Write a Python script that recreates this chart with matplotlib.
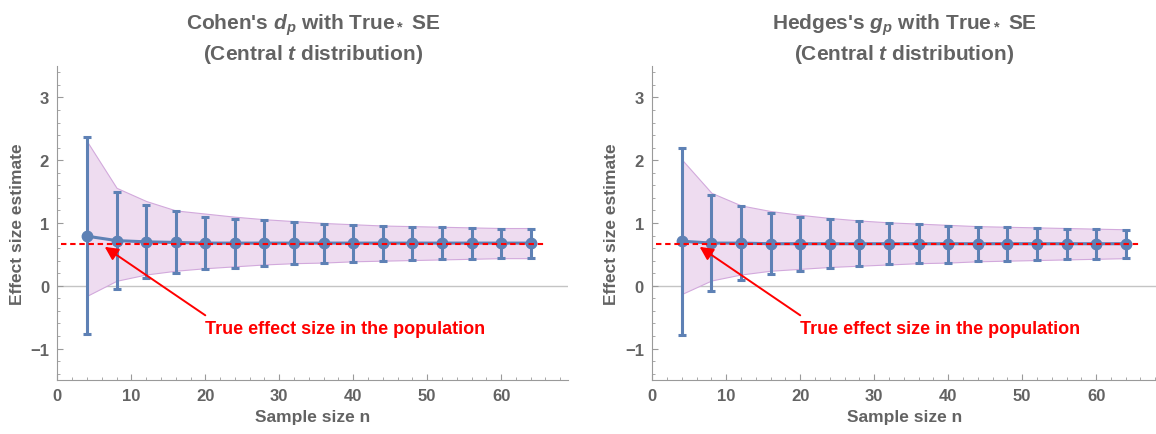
"""
Cohen's d_p and Hedges's g_p estimates vs sample size
"""

import matplotlib.pyplot as plt
from matplotlib.ticker import MultipleLocator

plt.rcParams['font.family'] = ['Liberation Sans', 'DejaVu Sans']
plt.rcParams['mathtext.fontset'] = 'custom'
plt.rcParams['mathtext.it'] = 'Liberation Sans:italic:bold'
plt.rcParams['mathtext.rm'] = 'Liberation Sans:bold'
plt.rcParams['mathtext.bf'] = 'Liberation Sans:bold'

# Sample sizes
sample_n = [4, 8, 12, 16, 20, 24, 28, 32, 36, 40, 44, 48, 52, 56, 60, 64]
true_effect = 0.665

# Cohen's d_p
d_mean = [0.79, 0.72, 0.70, 0.69, 0.68, 0.68, 0.68, 0.68, 0.68, 0.68, 0.68, 0.68, 0.68, 0.68, 0.68, 0.68]
d_err_hi = [2.37, 1.49, 1.28, 1.19, 1.10, 1.07, 1.04, 1.01, 0.99, 0.97, 0.95, 0.94, 0.93, 0.92, 0.91, 0.90]
d_err_lo = [-0.77, -0.05, 0.12, 0.20, 0.26, 0.29, 0.32, 0.35, 0.37, 0.38, 0.40, 0.41, 0.42, 0.43, 0.44, 0.45]
d_band_hi = [2.30, 1.56, 1.35, 1.20, 1.15, 1.10, 1.06, 1.03, 1.00, 0.98, 0.96, 0.95, 0.94, 0.93, 0.92, 0.92]
d_band_lo = [-0.16, 0.08, 0.18, 0.24, 0.28, 0.31, 0.34, 0.36, 0.37, 0.39, 0.40, 0.41, 0.42, 0.43, 0.44, 0.44]

# Hedges's g_p
g_mean = [0.71, 0.68, 0.68, 0.67, 0.67, 0.67, 0.67, 0.67, 0.67, 0.67, 0.67, 0.67, 0.67, 0.67, 0.67, 0.67]
g_err_hi = [2.20, 1.44, 1.27, 1.16, 1.10, 1.06, 1.03, 1.00, 0.98, 0.96, 0.94, 0.93, 0.92, 0.91, 0.90, 0.89]
g_err_lo = [-0.79, -0.09, 0.10, 0.18, 0.24, 0.28, 0.31, 0.34, 0.36, 0.37, 0.39, 0.40, 0.41, 0.42, 0.43, 0.44]
g_band_hi = [2.01, 1.48, 1.28, 1.19, 1.13, 1.08, 1.04, 1.01, 0.99, 0.97, 0.95, 0.94, 0.93, 0.92, 0.91, 0.90]
g_band_lo = [-0.13, 0.085, 0.18, 0.24, 0.27, 0.30, 0.32, 0.34, 0.36, 0.37, 0.39, 0.40, 0.41, 0.42, 0.43, 0.44]

titles = [
    "Cohen's $d_p$ with True$_*$ SE\n(Central $t$ distribution)",
    "Hedges's $g_p$ with True$_*$ SE\n(Central $t$ distribution)",
]
y_ticks = [-1, 0, 1, 2, 3]
y_tick_labels = ['\u22121', '0', '1', '2', '3']
x_max = [69.1, 68.1]

BLUE = '#5E81B5'
GRAY = '#636363'
AXIS_GRAY = '#9a9a9a'


def draw_panel(ax, title, mean, err_hi, err_lo, band_hi, band_lo, xmax):
    ax.fill_between(sample_n, band_lo, band_hi, facecolor='#eedcf0',
                    edgecolor='#d2a9dc', linewidth=0.8, zorder=1)
    ax.axhline(0, color='#c4c4c4', linewidth=1.0, zorder=0)
    yerr = [[m - lo for m, lo in zip(mean, err_lo)],
            [hi - m for m, hi in zip(mean, err_hi)]]
    ax.errorbar(sample_n, mean, yerr=yerr, fmt='o-', color=BLUE, ecolor=BLUE,
                markersize=7.5, linewidth=2.2, elinewidth=2.2, capsize=2.6,
                capthick=2.2, zorder=3)
    ax.plot([0.5, 66], [true_effect, true_effect], color='red',
            linestyle=(0, (2.6, 1.8)), linewidth=1.5, zorder=4)

    # arrow + label
    ax.annotate('', xy=(6.4, 0.62), xytext=(20, -0.47),
                arrowprops=dict(arrowstyle='-|>', color='red', lw=1.4,
                                mutation_scale=20, shrinkA=0, shrinkB=0),
                zorder=5)
    ax.text(20, -0.68, 'True effect size in the population', color='red',
            fontsize=13, fontweight='bold', va='center', ha='left', zorder=5)

    ax.set_xlim(0, xmax)
    ax.set_ylim(-1.5, 3.5)
    ax.xaxis.set_major_locator(MultipleLocator(10))
    ax.xaxis.set_minor_locator(MultipleLocator(2))
    ax.yaxis.set_minor_locator(MultipleLocator(0.2))
    ax.set_yticks(y_ticks)
    ax.set_yticklabels(y_tick_labels)
    for side in ('top', 'right'):
        ax.spines[side].set_visible(False)
    for side in ('left', 'bottom'):
        ax.spines[side].set_color(AXIS_GRAY)
    ax.tick_params(which='both', direction='in', colors=AXIS_GRAY,
                   labelcolor=GRAY, labelsize=12)
    ax.tick_params(which='major', length=4, pad=6)
    ax.tick_params(which='minor', length=2)
    for lab in ax.get_xticklabels() + ax.get_yticklabels():
        lab.set_fontweight('bold')

    ax.set_title(title, color=GRAY, fontsize=15, fontweight='bold',
                 linespacing=1.3, pad=5)
    ax.set_xlabel('Sample size n', color=GRAY, fontsize=12.5,
                  fontweight='bold', labelpad=4)
    ax.set_ylabel('Effect size estimate', color=GRAY, fontsize=12.5,
                  fontweight='bold', labelpad=4)


fig = plt.figure(figsize=(11.56, 4.35), dpi=100)
W, H = 1156, 435
ax1 = fig.add_axes([57.4 / W, 1 - 381 / H, 511 / W, 314 / H])
ax2 = fig.add_axes([652.3 / W, 1 - 381 / H, 503.7 / W, 314 / H])

draw_panel(ax1, titles[0], d_mean, d_err_hi, d_err_lo, d_band_hi, d_band_lo, x_max[0])
draw_panel(ax2, titles[1], g_mean, g_err_hi, g_err_lo, g_band_hi, g_band_lo, x_max[1])

plt.savefig('out.png', dpi=100)
plt.close()
